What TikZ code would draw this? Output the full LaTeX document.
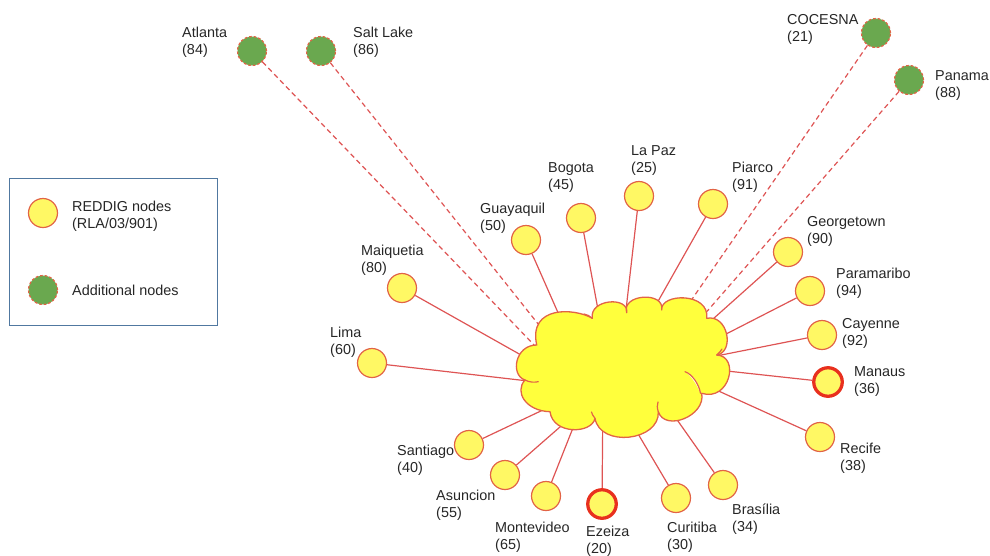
\documentclass[tikz,border=0pt]{standalone}
\usepackage{fontspec}
\setmainfont{Liberation Sans}
\definecolor{edgered}{RGB}{222,84,84}
\definecolor{nodefill}{RGB}{255,248,100}
\definecolor{nodeborder}{RGB}{226,100,70}
\definecolor{cloudfill}{RGB}{255,255,60}
\definecolor{greenfill}{RGB}{106,168,79}
\definecolor{hotred}{RGB}{232,48,30}
\definecolor{legendframe}{RGB}{80,120,160}
\tikzset{
  reddig/.style={circle, minimum size=29pt, inner sep=0pt, fill=nodefill, draw=nodeborder, line width=1.2pt},
  hubnode/.style={reddig, draw=hotred, line width=3.3pt, minimum size=28.5pt},
  extranode/.style={circle, minimum size=29pt, inner sep=0pt, fill=greenfill, draw=nodeborder, line width=1.2pt, dash pattern=on 2.6pt off 2pt},
  lbl/.style={anchor=west, inner sep=0pt, align=left, font=\fontsize{14.4}{17}\selectfont, text=black!85},
  link/.style={draw=edgered, line width=1.2pt},
  extlink/.style={link, dash pattern=on 5pt off 3.5pt},
  cloudbody/.style={fill=cloudfill, draw=nodeborder, line width=1.3pt, line join=round},
  cloudline/.style={draw=nodeborder, line width=1.2pt, line cap=round},
}
\begin{document}
\begin{tikzpicture}[x=1pt,y=-1pt]
\useasboundingbox (0,0) rectangle (990,555);

% legend
\draw[legendframe, line width=1pt] (9,178) rectangle (217,325);
\node[reddig] (legY) at (43,213) {};
\node[lbl] (legYt) at (72,216) {REDDIG nodes\\(RLA/03/901)};
\node[extranode] (legG) at (43,290) {};
\node[lbl] (legGt) at (72,290) {Additional nodes};

% additional nodes
\node[extranode] (atl) at (252,51) {};
\node[lbl] (atlL) at (182,42.5) {Atlanta\\(84)};
\node[extranode] (slc) at (321,51) {};
\node[lbl] (slcL) at (353,42.5) {Salt Lake\\(86)};
\node[extranode] (coc) at (876,33) {};
\node[lbl] (cocL) at (787,29.5) {COCESNA\\(21)};
\node[extranode] (pan) at (909,80) {};
\node[lbl] (panL) at (935,86) {Panama\\(88)};

% REDDIG nodes
\node[reddig] (lim) at (372,363) {};
\node[lbl] (limL) at (330,342) {Lima\\(60)};
\node[reddig] (mai) at (402,288) {};
\node[lbl] (maiL) at (361,260) {Maiquetia\\(80)};
\node[reddig] (gua) at (526,240) {};
\node[lbl] (guaL) at (480,218) {Guayaquil\\(50)};
\node[reddig] (bog) at (581,218) {};
\node[lbl] (bogL) at (548,178) {Bogota\\(45)};
\node[reddig] (lpz) at (639,196) {};
\node[lbl] (lpzL) at (631,161) {La Paz\\(25)};
\node[reddig] (pia) at (713,204) {};
\node[lbl] (piaL) at (732,177) {Piarco\\(91)};
\node[reddig] (geo) at (788,252) {};
\node[lbl] (geoL) at (807,231) {Georgetown\\(90)};
\node[reddig] (par) at (810,291) {};
\node[lbl] (parL) at (836,283) {Paramaribo\\(94)};
\node[reddig] (cay) at (822,335) {};
\node[lbl] (cayL) at (842,333) {Cayenne\\(92)};
\node[hubnode] (man) at (828,382) {};
\node[lbl] (manL) at (854,382) {Manaus\\(36)};
\node[reddig] (rec) at (820,437) {};
\node[lbl] (recL) at (840,458) {Recife\\(38)};
\node[reddig] (bra) at (723,485) {};
\node[lbl] (braL) at (732,519) {Brasília\\(34)};
\node[reddig] (cur) at (676,498) {};
\node[lbl] (curL) at (667,537) {Curitiba\\(30)};
\node[hubnode] (eze) at (602,504) {};
\node[lbl] (ezeL) at (586,541) {Ezeiza\\(20)};
\node[reddig] (mon) at (546,496) {};
\node[lbl] (monL) at (495,537) {Montevideo\\(65)};
\node[reddig] (asu) at (505,475) {};
\node[lbl] (asuL) at (436,505) {Asuncion\\(55)};
\node[reddig] (san) at (469,445) {};
\node[lbl] (sanL) at (397,460) {Santiago\\(40)};

% end points under the cloud
\coordinate (eatl) at (560,372);
\coordinate (eslc) at (562,354);
\coordinate (ecoc) at (670,331);
\coordinate (epan) at (682,340);
\coordinate (egua) at (574,349);
\coordinate (ebog) at (604,342);
\coordinate (elpz) at (622,345);
\coordinate (epia) at (639,335);
\coordinate (egeo) at (685,344);
\coordinate (epar) at (689,353);
\coordinate (ecay) at (691,361);
\coordinate (eman) at (690,367);
\coordinate (erec) at (681,374);
\coordinate (ebra) at (654,387);
\coordinate (ecur) at (618,400);
\coordinate (eeze) at (603,390);
\coordinate (emon) at (588,390);
\coordinate (easu) at (592,399);
\coordinate (esan) at (583,391);
\coordinate (emai) at (553,373);
\coordinate (elim) at (563,385);

% connectors
\draw[extlink] (atl) -- (eatl);
\draw[extlink] (slc) -- (eslc);
\draw[extlink] (coc) -- (ecoc);
\draw[extlink] (pan) -- (epan);
\draw[link] (gua) -- (egua);
\draw[link] (bog) -- (ebog);
\draw[link] (lpz) -- (elpz);
\draw[link] (pia) -- (epia);
\draw[link] (geo) -- (egeo);
\draw[link] (par) -- (epar);
\draw[link] (cay) -- (ecay);
\draw[link] (man) -- (eman);
\draw[link] (rec) -- (erec);
\draw[link] (bra) -- (ebra);
\draw[link] (cur) -- (ecur);
\draw[link] (eze) -- (eeze);
\draw[link] (mon) -- (emon);
\draw[link] (asu) -- (easu);
\draw[link] (san) -- (esan);
\draw[link] (mai) -- (emai);
\draw[link] (lim) -- (elim);

% cloud
\draw[cloudbody] (536.7,345)
  .. controls (528,305) and (575,308) .. (592.3,318.3)
  .. controls (589,299) and (629,296) .. (626.7,312.7)
  .. controls (621,294) and (665,291) .. (661.7,310)
  .. controls (660,293) and (710,292) .. (706.7,318.3)
  .. controls (728,314) and (735,352) .. (716.7,355)
  .. controls (740,356) and (730,402) .. (701.7,393.3)
  .. controls (706,416) and (665,432) .. (658.3,411.7)
  .. controls (660,441) and (600,448) .. (595,418.3)
  .. controls (592,434) and (553,435) .. (550,411.7)
  .. controls (526,411) and (514,392) .. (525,380)
  .. controls (510,375) and (515,345) .. (536.7,345) -- cycle;
\fill[white] (686,372) .. controls (694,375) and (699,384) .. (700.5,393) .. controls (697,385) and (692,377) .. cycle;
\draw[cloudline] (685,371.7) .. controls (692,374) and (699,384) .. (700.5,393.3);
\draw[cloudline] (525,380) .. controls (530,382.5) and (534,382.5) .. (538.3,381.7);
\draw[cloudline] (592.3,318.3) .. controls (590,316) and (587,314.5) .. (584,314);
\draw[cloudline] (716.7,355) .. controls (719,353) and (721,351) .. (722,349);
\draw[cloudline] (658.3,411.7) .. controls (657,408) and (657,405) .. (658,402);
\draw[cloudline] (595,418.3) .. controls (593,416) and (592,414) .. (591.5,412);
\end{tikzpicture}
\end{document}
